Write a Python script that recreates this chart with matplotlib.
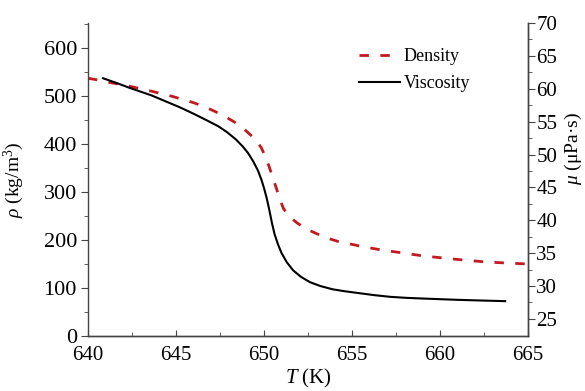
import matplotlib
matplotlib.use('Agg')
import matplotlib.pyplot as plt
import matplotlib.ticker as ticker

matplotlib.rcParams.update(
    {
        'font.family': 'Liberation Serif',
        'mathtext.fontset': 'custom',
        'mathtext.rm': 'Liberation Serif',
        'mathtext.it': 'Liberation Serif:italic',
        'axes.linewidth': 1.0,
    }
)

dens_T = [640.0, 640.6, 641.25, 642.4, 643.6, 644.8, 646.0, 646.6, 647.2, 647.8,
          648.35, 648.9, 649.5, 649.85, 650.1, 650.3, 650.5, 650.7, 650.9, 651.1,
          651.4, 651.9, 652.4, 653.0, 653.6, 654.2, 655.5, 656.7, 657.9, 659.0,
          660.3, 661.4, 662.7, 663.8, 665.0]
dens_rho = [537, 533, 528, 520, 510, 499, 486, 478, 468, 457,
            445, 430, 410, 392, 372, 352, 330, 308, 285, 266,
            250, 235, 223, 213, 204, 197, 187, 179, 173, 167,
            162, 158, 154, 152, 150]

visc_T = [640.85, 641.6, 642.4, 643.6, 644.4, 645.2, 646.0, 646.75, 647.4, 647.9,
          648.4, 648.8, 649.1, 649.4, 649.65, 649.85, 650.0, 650.15, 650.3, 650.45,
          650.6, 650.8, 651.0, 651.3, 651.65, 652.1, 652.6, 653.2, 653.9, 654.6,
          655.45, 656.3, 657.2, 658.1, 659.0, 660.0, 661.0, 662.3, 663.7]
visc_mu = [61.6, 60.9, 60.1, 59.0, 58.1, 57.2, 56.2, 55.2, 54.3, 53.4,
           52.3, 51.2, 50.2, 48.9, 47.6, 46.2, 44.9, 43.4, 41.6, 39.6,
           37.9, 36.3, 35.0, 33.6, 32.4, 31.4, 30.6, 30.0, 29.5, 29.2,
           28.9, 28.6, 28.35, 28.2, 28.1, 28.0, 27.9, 27.8, 27.7]

x_ticks = [640, 645, 650, 655, 660, 665]
rho_ticks = [0, 100, 200, 300, 400, 500, 600]
mu_ticks = [25, 30, 35, 40, 45, 50, 55, 60, 65, 70]

RED = '#c21a1f'
SPINE = '#444444'

fig = plt.figure(figsize=(5.85, 3.91), dpi=100)
ax = fig.add_axes([88 / 585, 1 - 336 / 391, 440 / 585, 313 / 391])
ax2 = ax.twinx()

l1, = ax.plot(dens_T, dens_rho, color=RED, lw=2.0, dashes=(3.4, 4.1), label='Density')
l2, = ax2.plot(visc_T, visc_mu, color='black', lw=1.5, label='Viscosity')

ax.set_xlim(640, 665)
ax.set_ylim(0, 652)
ax2.set_ylim(22.4, 70)

for a in (ax, ax2):
    a.spines['top'].set_visible(False)
    for s in a.spines.values():
        s.set_color(SPINE)
ax2.spines['left'].set_visible(False)

ax.set_xticks(x_ticks)
ax.xaxis.set_minor_locator(ticker.MultipleLocator(2.5))
ax.set_yticks(rho_ticks)
ax.yaxis.set_minor_locator(ticker.MultipleLocator(50))
ax2.set_yticks(mu_ticks)
ax2.yaxis.set_minor_locator(ticker.FixedLocator([27.5 + 5 * i for i in range(9)]))

ax.tick_params(axis='x', which='major', direction='in', length=4, color=SPINE,
               labelsize=15, pad=7)
ax.tick_params(axis='x', which='minor', direction='in', length=3, color=SPINE)
ax.tick_params(axis='y', which='major', direction='out', length=5, color=SPINE,
               labelsize=16, pad=3)
ax.tick_params(axis='y', which='minor', direction='out', length=3, color=SPINE)
ax2.tick_params(axis='y', which='major', direction='out', length=5, color=SPINE,
                labelsize=15, pad=1)
ax2.tick_params(axis='y', which='minor', direction='out', length=3, color=SPINE)

ax.set_xlabel(r'$T$ (K)', fontsize=15)
ax.xaxis.set_label_coords(0.5, -0.1)
ax.set_ylabel(r'$\rho$ (kg/m$^3$)', fontsize=14)
ax.yaxis.set_label_coords(-0.14, 0.5)
ax2.set_ylabel(r'$\mu$ (μPa·s)', fontsize=14)
ax2.yaxis.set_label_coords(1.08, 0.6)

ax.legend(
    handles=[l1, l2],
    loc='upper left',
    bbox_to_anchor=(0.615, 0.92),
    frameon=False,
    fontsize=13,
    handlelength=2.3,
    handletextpad=0.2,
    labelspacing=0.55,
    borderpad=0,
    borderaxespad=0,
)

fig.savefig('out.png', dpi=100, facecolor='white')
plt.close(fig)
